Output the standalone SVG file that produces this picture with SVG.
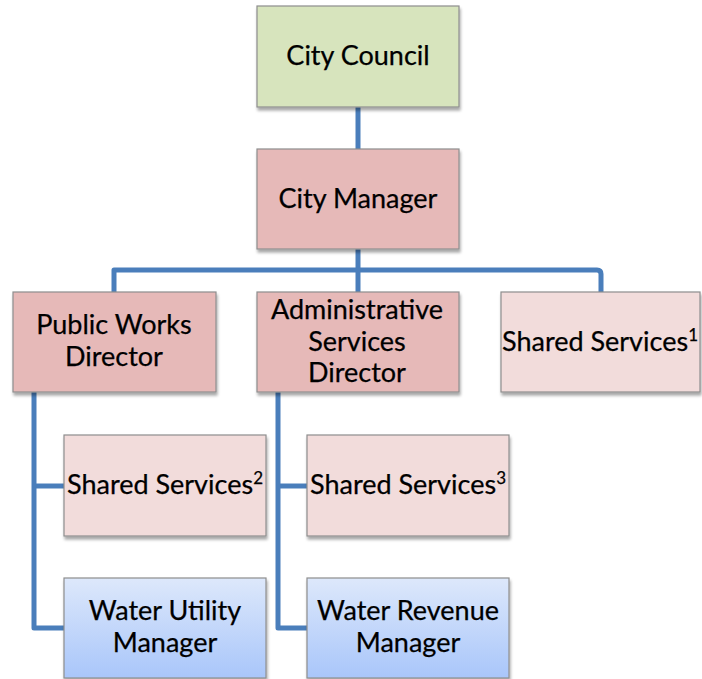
<svg xmlns="http://www.w3.org/2000/svg" width="702" height="679" viewBox="0 0 702 679">
  <defs>
    <linearGradient id="waterFill" x1="0" y1="0" x2="0" y2="1">
      <stop offset="0" stop-color="#dde8fb"/>
      <stop offset="1" stop-color="#a9c6fa"/>
    </linearGradient>
    <filter id="shadow" x="-5%" y="-5%" width="115%" height="120%">
      <feGaussianBlur in="SourceAlpha" stdDeviation="1.5"/>
      <feOffset dx="1" dy="3" result="b"/>
      <feComponentTransfer><feFuncA type="linear" slope="0.35"/></feComponentTransfer>
      <feMerge><feMergeNode/><feMergeNode in="SourceGraphic"/></feMerge>
    </filter>
  </defs>
  <style>
    .box { stroke: #8e8e8e; stroke-width: 1.2; filter: url(#shadow); }
    .council { fill: #d7e4bd; }
    .manager { fill: #e6b9b8; }
    .shared { fill: #f2dcdb; }
    .water { fill: url(#waterFill); }
    .lbl { font-family: Lato, "Liberation Sans", sans-serif; font-size: 27px; fill: #000; text-anchor: middle; stroke: #000; stroke-width: 0.25; }
    .sup { font-size: 17px; }
    .wire { fill: none; stroke: #4a7ebb; stroke-width: 5; stroke-linejoin: round; }
  </style>

  <rect width="702" height="679" fill="#ffffff"/>

  <!-- reporting lines -->
  <g id="connectors">
    <path class="wire" d="M358 107 V149"/>
    <path class="wire" d="M358 249 V292"/>
    <path class="wire" d="M114 292 V270 H597 Q601 270 601 274 V292"/>
    <path class="wire" d="M34 392 V628 H64"/>
    <path class="wire" d="M34 486 H64"/>
    <path class="wire" d="M278 392 V628 H307"/>
    <path class="wire" d="M278 486 H307"/>
  </g>

  <g id="city-council">
    <rect class="box council" x="257" y="6" width="202" height="101"/>
    <text class="lbl" x="358" y="65">City Council</text>
  </g>

  <g id="city-manager">
    <rect class="box manager" x="257" y="149" width="202" height="100"/>
    <text class="lbl" x="358" y="208">City Manager</text>
  </g>

  <g id="public-works-director">
    <rect class="box manager" x="13" y="292" width="203" height="100"/>
    <text class="lbl" x="114" y="334">Public Works</text>
    <text class="lbl" x="114" y="366">Director</text>
  </g>

  <g id="admin-services-director">
    <rect class="box manager" x="257" y="292" width="202" height="100"/>
    <text class="lbl" x="357" y="319">Administrative</text>
    <text class="lbl" x="357" y="351">Services</text>
    <text class="lbl" x="357" y="382">Director</text>
  </g>

  <g id="shared-services-1">
    <rect class="box shared" x="501" y="292" width="199" height="100"/>
    <text class="lbl" x="600" y="351">Shared Services<tspan class="sup" dy="-10">1</tspan></text>
  </g>

  <g id="shared-services-2">
    <rect class="box shared" x="64" y="435" width="202" height="101"/>
    <text class="lbl" x="165" y="494">Shared Services<tspan class="sup" dy="-10">2</tspan></text>
  </g>

  <g id="shared-services-3">
    <rect class="box shared" x="307" y="435" width="202" height="101"/>
    <text class="lbl" x="408" y="494">Shared Services<tspan class="sup" dy="-10">3</tspan></text>
  </g>

  <g id="water-utility-manager">
    <rect class="box water" x="64" y="578" width="202" height="100"/>
    <text class="lbl" x="165" y="620">Water Utility</text>
    <text class="lbl" x="165" y="652">Manager</text>
  </g>

  <g id="water-revenue-manager">
    <rect class="box water" x="307" y="578" width="202" height="100"/>
    <text class="lbl" x="408" y="620">Water Revenue</text>
    <text class="lbl" x="408" y="652">Manager</text>
  </g>
</svg>
